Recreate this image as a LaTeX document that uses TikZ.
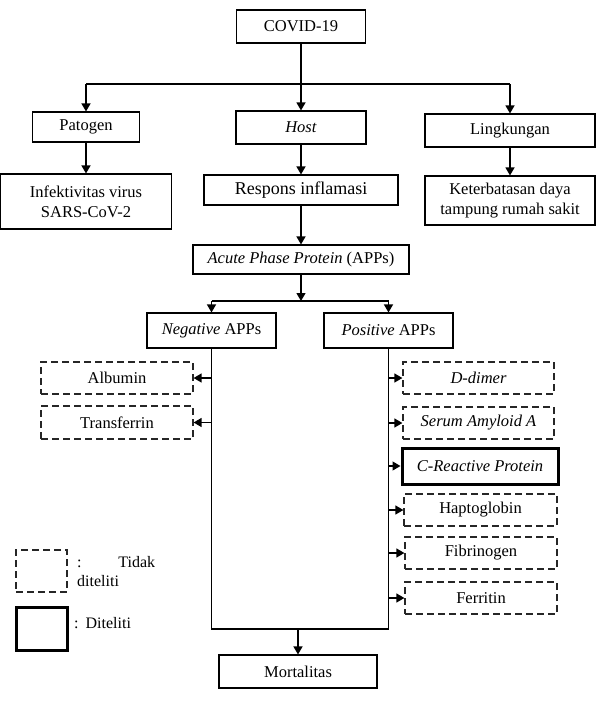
\documentclass[tikz,border=0pt]{standalone}
\usepackage{fontspec}
\setmainfont{Liberation Serif}
\usetikzlibrary{arrows.meta}
\tikzset{
  base/.style={font=\fontsize{16.5}{20}\selectfont, inner sep=0pt, align=center},
  box/.style={base, draw, line width=1.1pt},
  dbox/.style={base, draw=black!85, line width=1.2pt, dash pattern=on 7pt off 4pt},
  tbox/.style={base, draw, line width=3pt},
  arr/.style={line width=1.3pt, -{Triangle[length=8pt,width=9pt]}},
  ln/.style={line width=1.3pt},
}
\begin{document}
\begin{tikzpicture}[x=1pt,y=-1pt]
\useasboundingbox (0,0) rectangle (596,710);
% top level
\node[box, minimum width=129, minimum height=33] (covid) at (301,26.5) {COVID-19};
\node[box, minimum width=107, minimum height=30] (pat) at (86,127) {Patogen};
\node[box, minimum width=130, minimum height=33] (host) at (301,127.5) {\textit{Host}};
\node[box, minimum width=170, minimum height=33] (ling) at (510,130.5) {Lingkungan};
\node[box, minimum width=171, minimum height=55] (inf) at (86,201.5) {Infektivitas virus\\SARS-CoV-2};
\node[box, minimum width=194, minimum height=30, font=\fontsize{18}{21}\selectfont] (resp) at (301,190) {Respons inflamasi};
\node[box, minimum width=170, minimum height=49] (ket) at (510,200.5) {Keterbatasan daya\\tampung rumah sakit};
\node[box, minimum width=216, minimum height=29] (app) at (301,259.5) {\textit{Acute Phase Protein} (APPs)};
\node[box, minimum width=129, minimum height=35] (neg) at (211.5,330.5) {\textit{Negative} APPs};
\node[box, minimum width=129, minimum height=35] (pos) at (388.5,330.5) {\textit{Positive} APPs};
% left items
\node[dbox, minimum width=152, minimum height=32] (alb) at (117,378) {Albumin};
\node[dbox, minimum width=152, minimum height=33] (tra) at (117,422.5) {Transferrin};
% right items
\node[dbox, minimum width=151, minimum height=32] (ddi) at (478.5,378) {\textit{D-dimer}};
\node[dbox, minimum width=151, minimum height=32] (saa) at (478.5,423) {\textit{Serum Amyloid A}};
\node[tbox, minimum width=156, minimum height=36] (crp) at (480,466) {\textit{C-Reactive Protein}};
\node[dbox, minimum width=153, minimum height=32] (hap) at (480.5,510) {Haptoglobin};
\node[dbox, minimum width=152, minimum height=32] (fib) at (481,553) {Fibrinogen};
\node[dbox, minimum width=152, minimum height=32] (fer) at (481,598) {Ferritin};
% bottom
\node[box, minimum width=158, minimum height=33] (mort) at (298,671.5) {Mortalitas};
% legend
\node[dbox, minimum width=51, minimum height=42] (lg1) at (41.5,571) {};
\node[tbox, minimum width=51, minimum height=43] (lg2) at (41.5,628.5) {};
\node[base, font=\fontsize{16}{19}\selectfont, anchor=north west, text width=78pt, align=left] (lt1) at (77,556) {:\hfill Tidak\\diteliti};
\node[base, font=\fontsize{16}{19}\selectfont, anchor=west] (lt2) at (74,623) {:\hspace{7pt}Diteliti};
% connectors top
\coordinate (tl) at (86,84);
\coordinate (tr) at (510,84);
\draw[arr] (covid.south) -- (host.north);
\draw[ln] (tl) -- (tr);
\draw[arr] (tl) -- (pat.north);
\draw[arr] (tr) -- (ling.north);
\draw[arr] (pat.south) -- (inf.north);
\draw[arr] (host.south) -- (resp.north);
\draw[arr] (ling.south) -- (ket.north);
\draw[arr] (resp.south) -- (app.north);
% APP branch
\coordinate (aj) at (301,301);
\coordinate (bl) at (211.5,301);
\coordinate (br) at (388.5,301);
\draw[arr] (app.south) -- (aj);
\draw[ln] (bl) -- (br);
\draw[arr] (bl) -- (neg.north);
\draw[arr] (br) -- (pos.north);
% big loop
\coordinate (bb) at (298,629);
\draw[ln] (neg.south) |- (bb) -| (pos.south);
\draw[arr] (bb) -- (mort.north);
% side arrows
\draw[arr] (neg.south |- alb.east) -- (alb.east);
\draw[arr] (neg.south |- tra.east) -- (tra.east);
\draw[arr] (pos.south |- ddi.west) -- (ddi.west);
\draw[arr] (pos.south |- saa.west) -- (saa.west);
\draw[arr] (pos.south |- crp.west) -- (crp.west);
\draw[arr] (pos.south |- hap.west) -- (hap.west);
\draw[arr] (pos.south |- fib.west) -- (fib.west);
\draw[arr] (pos.south |- fer.west) -- (fer.west);
\end{tikzpicture}
\end{document}
